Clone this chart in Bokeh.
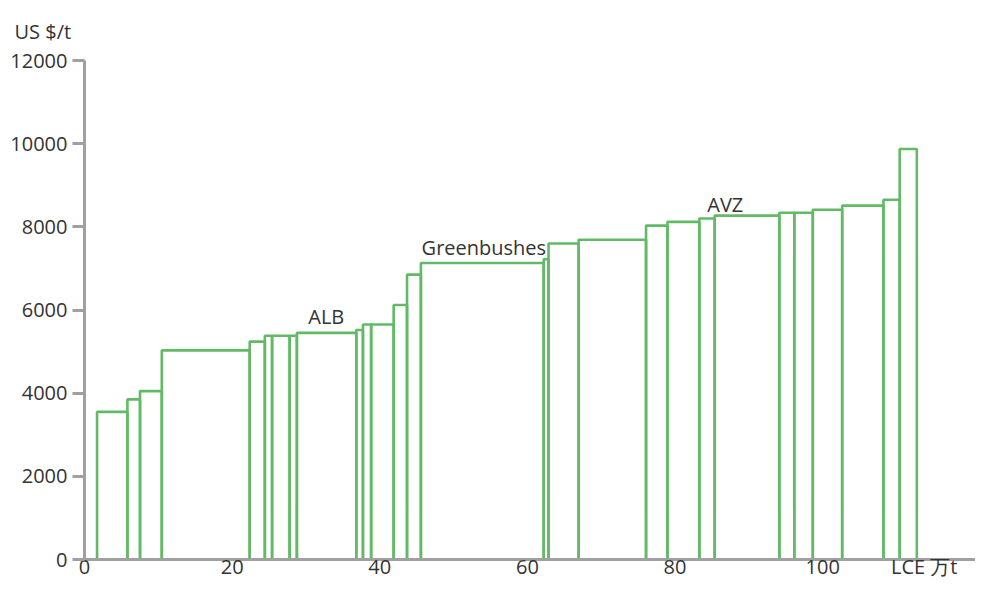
from bokeh.plotting import figure
from bokeh.models import ColumnDataSource, FixedTicker, Range1d
from bokeh.core.properties import value
from bokeh.embed import file_html
from bokeh.resources import INLINE

# ---- data (capacity in 万t LCE, cash cost in US$/t) ----
first_start = 1.70
widths = [4.11, 1.71, 2.95, 11.91, 2.05, 0.98, 2.38, 0.98, 8.05, 0.90,
          1.11, 3.05, 1.81, 1.88, 16.64, 0.65, 4.08, 9.13, 2.90, 4.32,
          2.08, 8.76, 2.02, 2.51, 3.98, 5.59, 2.20, 2.32]
costs = [3550, 3850, 4050, 5030, 5240, 5380, 5380, 5380, 5450, 5520,
         5650, 5650, 6120, 6850, 7130, 7220, 7600, 7690, 8030, 8120,
         8200, 8270, 8340, 8340, 8410, 8510, 8650, 9870]
label_names = ["ALB", "Greenbushes", "AVZ"]
label_x = [32.75, 54.1, 86.8]
label_y = [5840, 7510, 8540]
x_ticks = [0, 20, 40, 60, 80, 100]
y_ticks = [0, 2000, 4000, 6000, 8000, 10000, 12000]
x_unit = "LCE 万t"
x_unit_pos = 113.75
y_unit = "US $/t"

lefts, rights = [], []
pos = first_start
for w in widths:
    lefts.append(pos)
    pos += w
    rights.append(pos)

src = ColumnDataSource(dict(left=lefts, right=rights, top=costs, bottom=[0] * len(costs)))

FONT = "Open Sans"
TXT = "#333333"
AX = "#a0a0a0"
GREEN = "#63ba66"

p = figure(width=975, height=582, output_backend="svg", toolbar_location=None,
           x_range=Range1d(0, 120.7), y_range=Range1d(0, 12000),
           min_border_left=84, min_border_right=0, min_border_top=60, min_border_bottom=23,
           title=y_unit)
p.outline_line_color = None
p.xgrid.visible = False
p.ygrid.visible = False
p.background_fill_color = "white"
p.border_fill_color = "white"

p.title.text_font = FONT
p.title.text_font_size = "20px"
p.title.text_font_style = "normal"
p.title.text_color = TXT
p.title.align = "left"
p.title.offset = -70
p.title.standoff = 28
p.title.vertical_align = "top"

p.quad(left="left", right="right", top="top", bottom="bottom", source=src,
       fill_color=None, line_color=GREEN, line_width=2.6)

p.text(x=label_x, y=label_y, text=label_names, text_font=value(FONT),
       text_font_size="20px", text_color=TXT, text_align="center",
       text_baseline="alphabetic")

# axes
xa = p.xaxis[0]
xa.ticker = FixedTicker(ticks=x_ticks + [x_unit_pos])
xa.major_label_overrides = {x_unit_pos: x_unit}
xa.axis_line_color = AX
xa.axis_line_width = 3
xa.major_tick_line_color = None
xa.minor_tick_line_color = None
xa.major_tick_out = 0
xa.major_tick_in = 0
xa.major_label_standoff = -7
xa.major_label_text_font = FONT
xa.major_label_text_font_size = "20px"
xa.major_label_text_color = TXT

ya = p.yaxis[0]
ya.ticker = FixedTicker(ticks=y_ticks)
ya.axis_line_color = AX
ya.axis_line_width = 3
ya.major_tick_line_color = AX
ya.major_tick_line_width = 3
ya.major_tick_out = 12
ya.major_tick_in = 0
ya.minor_tick_line_color = None
ya.major_label_standoff = 5
ya.major_label_text_font = FONT
ya.major_label_text_font_size = "20px"
ya.major_label_text_color = TXT

open("out.html", "w").write(file_html(p, INLINE))
